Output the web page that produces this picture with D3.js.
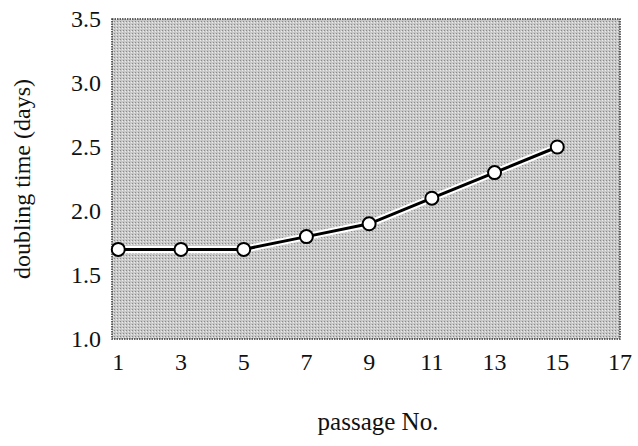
<!DOCTYPE html>
<html lang="en">
<head>
<meta charset="UTF-8">
<title>Doubling time</title>
<script src="https://cdn.jsdelivr.net/npm/d3@7"></script>
<style>
  body { margin: 0; background: #fff; }
  text { font-family: "Liberation Serif", "DejaVu Serif", serif; fill: #111; }
</style>
</head>
<body>
<svg id="chart" width="638" height="446"></svg>
<script>
  var passages = [1, 3, 5, 7, 9, 11, 13, 15];
  var doubling = [1.7, 1.7, 1.7, 1.8, 1.9, 2.1, 2.3, 2.5];
  var xTicks = [1, 3, 5, 7, 9, 11, 13, 15, 17];
  var yTicks = [1.0, 1.5, 2.0, 2.5, 3.0, 3.5];

  var svg = d3.select("#chart");
  var plotL = 112, plotR = 620, plotT = 19, plotB = 339;

  var x = d3.scaleLinear().domain([0.8, 17]).range([plotL, plotR]);
  var y = d3.scaleLinear().domain([1.0, 3.5]).range([plotB, plotT]);

  // halftone-ish background
  var defs = svg.append("defs");
  var pat = defs.append("pattern")
      .attr("id", "dots")
      .attr("width", 3).attr("height", 3)
      .attr("patternUnits", "userSpaceOnUse");
  pat.append("rect").attr("width", 3).attr("height", 3).attr("fill", "#c8c8c8");
  pat.append("rect").attr("width", 1).attr("height", 1).attr("fill", "#8a8a8a");
  pat.append("rect").attr("x", 2).attr("y", 1).attr("width", 1).attr("height", 1).attr("fill", "#ececec");

  svg.append("rect")
      .attr("x", plotL).attr("y", plotT)
      .attr("width", plotR - plotL).attr("height", plotB - plotT)
      .attr("fill", "url(#dots)")
      .attr("stroke", "#333")
      .attr("stroke-width", 1.5)
      .attr("stroke-dasharray", "1.5,1");

  // y tick labels
  svg.append("g").selectAll("text")
      .data(yTicks).enter().append("text")
      .attr("x", plotL - 11)
      .attr("y", d => y(d))
      .attr("dy", "0.35em")
      .attr("text-anchor", "end")
      .attr("font-size", 24)
      .text(d => d.toFixed(1));

  // x tick labels
  svg.append("g").selectAll("text")
      .data(xTicks).enter().append("text")
      .attr("x", d => x(d))
      .attr("y", plotB + 31)
      .attr("text-anchor", "middle")
      .attr("font-size", 24)
      .text(d => d);

  var pts = passages.map((p, i) => [p, doubling[i]]);
  var line = d3.line().x(d => x(d[0])).y(d => y(d[1]));

  svg.append("path")
      .datum(pts)
      .attr("d", line)
      .attr("fill", "none")
      .attr("stroke", "#fff")
      .attr("stroke-width", 7);
  svg.append("path")
      .datum(pts)
      .attr("d", line)
      .attr("fill", "none")
      .attr("stroke", "#000")
      .attr("stroke-width", 3);

  svg.append("g").selectAll("circle")
      .data(pts).enter().append("circle")
      .attr("cx", d => x(d[0]))
      .attr("cy", d => y(d[1]))
      .attr("r", 6.5)
      .attr("fill", "#fff")
      .attr("stroke", "#000")
      .attr("stroke-width", 2);

  svg.append("text")
      .attr("transform", "translate(30," + ((plotT + plotB) / 2) + ") rotate(-90)")
      .attr("text-anchor", "middle")
      .attr("font-size", 24)
      .text("doubling time (days)");

  svg.append("text")
      .attr("x", 378)
      .attr("y", 430)
      .attr("text-anchor", "middle")
      .attr("font-size", 25)
      .text("passage No.");
</script>
</body>
</html>
